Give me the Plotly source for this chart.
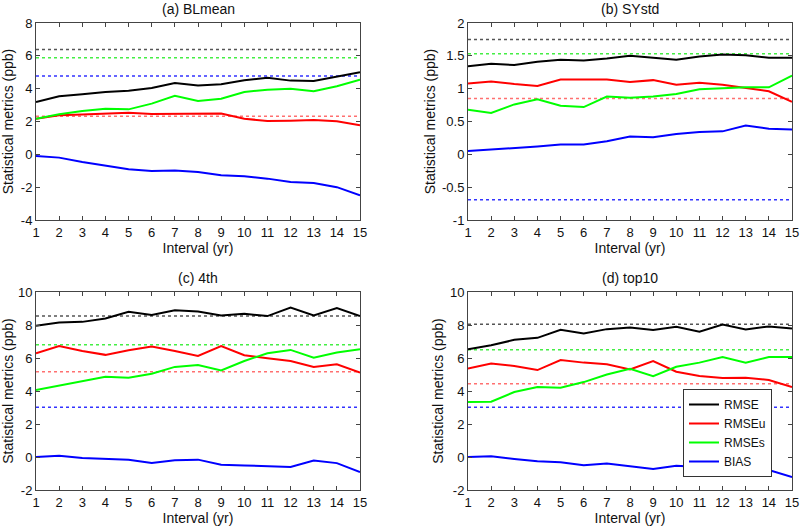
import plotly.graph_objects as go

intervals = list(range(1, 16))

# (a) BLmean
a_rmse  = [3.19, 3.54, 3.66, 3.80, 3.88, 4.04, 4.35, 4.20, 4.27, 4.51, 4.67, 4.49, 4.47, 4.72, 5.00]
a_rmseu = [2.17, 2.38, 2.42, 2.46, 2.54, 2.46, 2.46, 2.44, 2.48, 2.17, 2.03, 2.05, 2.09, 2.01, 1.77]
a_rmses = [2.17, 2.44, 2.64, 2.78, 2.74, 3.09, 3.56, 3.25, 3.39, 3.80, 3.94, 4.00, 3.84, 4.15, 4.55]
a_bias  = [-0.10, -0.20, -0.47, -0.71, -0.91, -1.02, -0.98, -1.08, -1.28, -1.34, -1.48, -1.69, -1.75, -2.00, -2.50]
a_ref   = [6.39, 2.32, 5.88, 4.77]   # RMSE, RMSEu, RMSEs, BIAS reference levels

# (b) SYstd
b_rmse  = [1.34, 1.38, 1.36, 1.41, 1.44, 1.43, 1.46, 1.50, 1.47, 1.44, 1.49, 1.52, 1.51, 1.47, 1.47]
b_rmseu = [1.08, 1.11, 1.07, 1.04, 1.14, 1.14, 1.14, 1.10, 1.13, 1.06, 1.09, 1.06, 1.01, 0.96, 0.80]
b_rmses = [0.68, 0.63, 0.76, 0.84, 0.74, 0.72, 0.88, 0.86, 0.88, 0.92, 0.99, 1.01, 1.02, 1.02, 1.20]
b_bias  = [0.05, 0.07, 0.09, 0.12, 0.15, 0.15, 0.20, 0.27, 0.26, 0.31, 0.34, 0.35, 0.44, 0.39, 0.38]
b_ref   = [1.75, 0.85, 1.53, -0.69]

# (c) 4th
c_rmse  = [7.95, 8.15, 8.19, 8.40, 8.80, 8.60, 8.90, 8.82, 8.58, 8.68, 8.54, 9.05, 8.58, 9.03, 8.54]
c_rmseu = [6.29, 6.73, 6.43, 6.19, 6.47, 6.69, 6.43, 6.13, 6.73, 6.17, 5.98, 5.82, 5.46, 5.62, 5.11]
c_rmses = [4.06, 4.34, 4.60, 4.87, 4.81, 5.05, 5.46, 5.58, 5.25, 5.82, 6.29, 6.49, 6.02, 6.33, 6.53]
c_bias  = [0.00, 0.08, -0.06, -0.12, -0.16, -0.37, -0.20, -0.16, -0.47, -0.51, -0.57, -0.61, -0.22, -0.37, -0.91]
c_ref   = [8.54, 5.17, 6.80, 3.02]

# (d) top10
d_rmse  = [6.53, 6.77, 7.10, 7.22, 7.71, 7.49, 7.75, 7.85, 7.69, 7.89, 7.59, 8.03, 7.73, 7.91, 7.79]
d_rmseu = [5.36, 5.66, 5.52, 5.27, 5.88, 5.72, 5.62, 5.31, 5.82, 5.17, 4.91, 4.79, 4.81, 4.67, 4.24]
d_rmses = [3.33, 3.35, 3.94, 4.24, 4.20, 4.54, 5.00, 5.35, 4.90, 5.47, 5.72, 6.06, 5.72, 6.06, 6.06]
d_bias  = [0.00, 0.04, -0.12, -0.26, -0.32, -0.50, -0.40, -0.57, -0.73, -0.53, -0.61, -0.99, -0.91, -0.79, -1.22]
d_ref   = [8.04, 4.44, 6.50, 3.02]

panel_titles = ["(a) BLmean", "(b) SYstd", "(c) 4th", "(d) top10"]
series_names = ["RMSE", "RMSEu", "RMSEs", "BIAS"]
line_colors = ["#000000", "#ff0000", "#00ff00", "#0000ff"]
ref_colors = ["#555555", "#ff7070", "#44ee44", "#3333ff"]

x_ticks = list(range(1, 16))
y_ticks_ab = [[-4, -2, 0, 2, 4, 6, 8], [-1, -0.5, 0, 0.5, 1, 1.5, 2]]
y_ticktext_ab = [["-4", "-2", "0", "2", "4", "6", "8"], ["-1", "-0.5", "0", "0.5", "1", "1.5", "2"]]
y_ticks_cd = [-2, 0, 2, 4, 6, 8, 10]
y_ticktext_cd = ["-2", "0", "2", "4", "6", "8", "10"]

panels = [
    (a_rmse, a_rmseu, a_rmses, a_bias, a_ref, y_ticks_ab[0], y_ticktext_ab[0], [-4, 8]),
    (b_rmse, b_rmseu, b_rmses, b_bias, b_ref, y_ticks_ab[1], y_ticktext_ab[1], [-1, 2]),
    (c_rmse, c_rmseu, c_rmses, c_bias, c_ref, y_ticks_cd, y_ticktext_cd, [-2, 10]),
    (d_rmse, d_rmseu, d_rmses, d_bias, d_ref, y_ticks_cd, y_ticktext_cd, [-2, 10]),
]

W, H = 800, 526
# plot-area pixel boxes (left, right, top, bottom)
boxes = [(36, 360, 23, 220), (468, 792, 23, 220), (36, 360, 292, 490), (468, 792, 292, 490)]


def px(p):
    return p / W


def py(p):
    return 1 - p / H


fig = go.Figure()
font_family = "Liberation Sans, Arial, sans-serif"
axis_color = "#444444"
text_color = "#111111"

for i, (rmse, rmseu, rmses, bias, ref, yt, ytt, yr) in enumerate(panels):
    xa = "x" if i == 0 else f"x{i+1}"
    ya = "y" if i == 0 else f"y{i+1}"
    for k in range(4):
        fig.add_trace(go.Scatter(
            x=[intervals[0], intervals[-1]], y=[ref[k], ref[k]], mode="lines",
            line=dict(color=ref_colors[k], width=1.5, dash="dot"),
            xaxis=xa, yaxis=ya, showlegend=False, hoverinfo="skip"))
    for k, vals in enumerate([rmse, rmseu, rmses, bias]):
        fig.add_trace(go.Scatter(
            x=intervals, y=vals, mode="lines", name=series_names[k],
            line=dict(color=line_colors[k], width=2),
            xaxis=xa, yaxis=ya, showlegend=(i == 3)))

    l, r, t, b = boxes[i]
    xkey = "xaxis" if i == 0 else f"xaxis{i+1}"
    ykey = "yaxis" if i == 0 else f"yaxis{i+1}"
    fig.layout[xkey] = dict(
        domain=[px(l), px(r)], anchor=ya, range=[1, 15],
        tickvals=x_ticks, ticktext=[str(v) for v in x_ticks],
        ticks="inside", ticklen=4, tickcolor=axis_color,
        showline=True, linecolor=axis_color, linewidth=1, mirror="allticks",
        showgrid=False, zeroline=False, automargin=False,
        tickfont=dict(size=13, color=text_color, family=font_family),
        title=dict(text="Interval (yr)", font=dict(size=14, color=text_color, family=font_family), standoff=2))
    fig.layout[ykey] = dict(
        domain=[py(b), py(t)], anchor=xa, range=yr,
        tickvals=yt, ticktext=ytt,
        ticks="inside", ticklen=4, tickcolor=axis_color,
        showline=True, linecolor=axis_color, linewidth=1, mirror="allticks",
        showgrid=False, zeroline=False, automargin=False,
        tickfont=dict(size=13, color=text_color, family=font_family),
        title=dict(text="Statistical metrics (ppb)", font=dict(size=14, color=text_color, family=font_family), standoff=3))
    fig.add_annotation(
        text=panel_titles[i], x=(px(l) + px(r)) / 2, y=py(t - 4),
        xref="paper", yref="paper", xanchor="center", yanchor="bottom",
        showarrow=False, font=dict(size=14, color=text_color, family=font_family))

fig.update_layout(
    width=W, height=H, autosize=False,
    margin=dict(l=0, r=0, t=0, b=0, pad=0),
    paper_bgcolor="white", plot_bgcolor="white",
    showlegend=True,
    legend=dict(
        x=px(683), y=py(389), xanchor="left", yanchor="top",
        bgcolor="white", bordercolor="#333333", borderwidth=1,
        font=dict(size=12, color=text_color, family=font_family),
        tracegroupgap=0, itemwidth=30),
)

fig.write_html(
    "out.html",
    config={"displayModeBar": False},
    post_script="document.body.style.margin='0';document.body.style.overflow='hidden';",
)
